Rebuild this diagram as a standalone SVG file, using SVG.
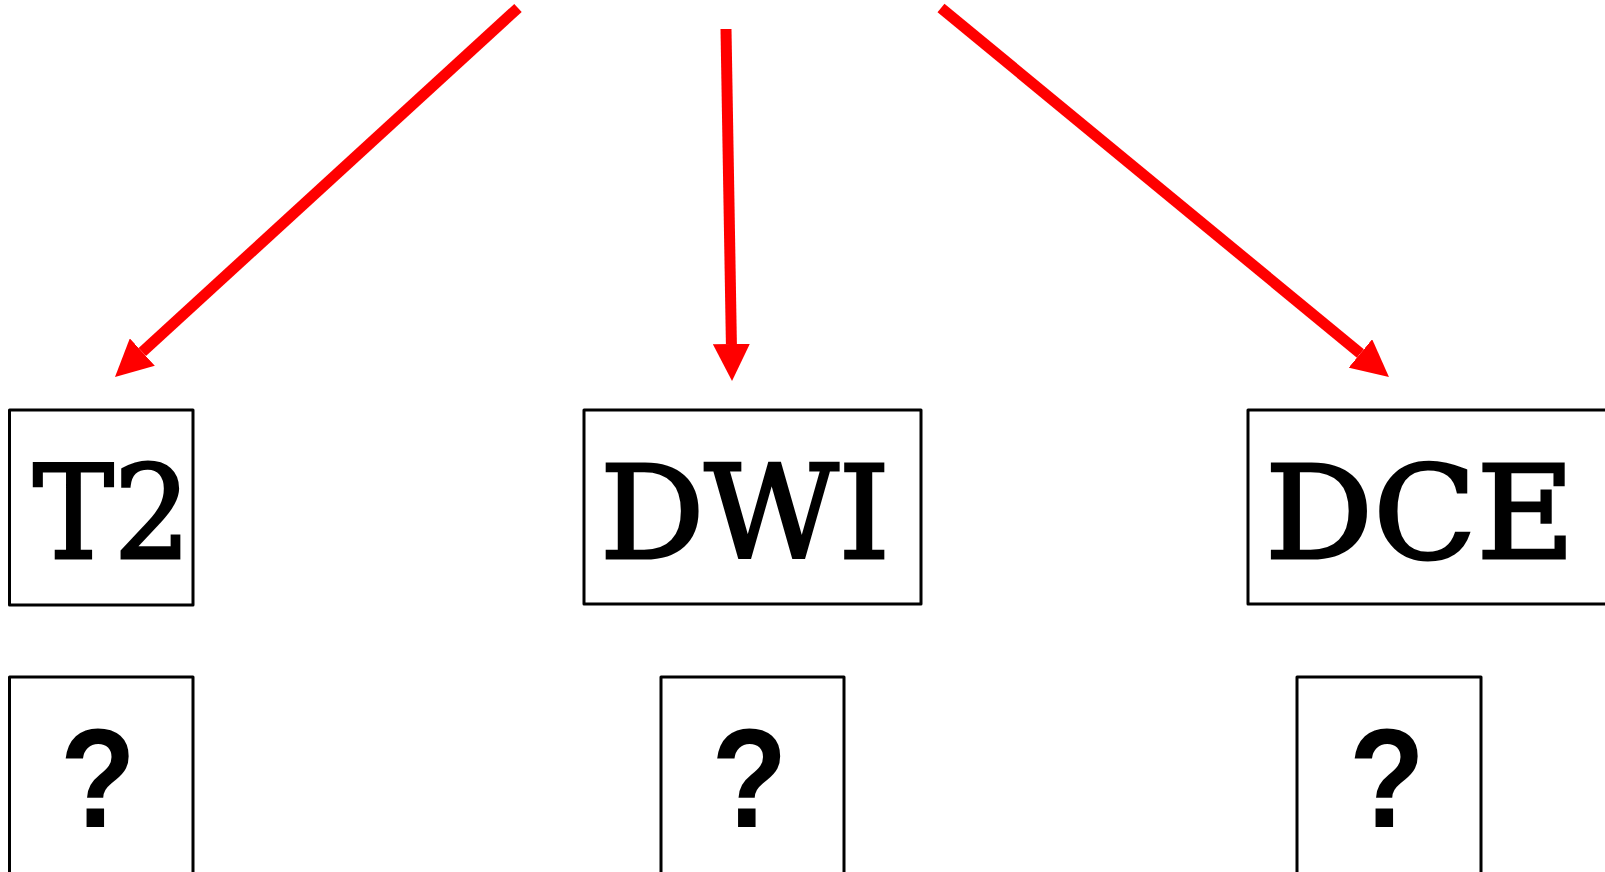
<svg xmlns="http://www.w3.org/2000/svg" width="1605" height="872" viewBox="0 0 1605 872">
  <style>
    .box { fill: #ffffff; stroke: #000000; stroke-width: 3; stroke-linejoin: round; }
    .label { font-family: "DejaVu Serif", "Liberation Serif", serif; font-size: 129px; fill: #000000; stroke: #000000; stroke-width: 3; text-anchor: middle; }
    .unknown { font-family: "Liberation Sans", Arial, sans-serif; font-weight: bold; font-size: 141px; fill: #000000; text-anchor: middle; }
    .link { fill: none; stroke: #ff0000; stroke-width: 11; marker-end: url(#head); }
  </style>
  <defs>
    <marker id="head" markerUnits="userSpaceOnUse" markerWidth="37" markerHeight="37" viewBox="0 0 37 37" refX="0" refY="18.5" orient="auto">
      <path d="M0,0 L37,18.5 L0,37 Z" fill="#ff0000"/>
    </marker>
  </defs>
  <rect width="1605" height="872" fill="#ffffff"/>

  <!-- connectors -->
  <g id="connectors">
    <path class="link" d="M518,8 L142.3,352"/>
    <path class="link" d="M726,29 L731.4,344"/>
    <path class="link" d="M941,8 L1360.4,353.5"/>
  </g>

  <!-- sequence row -->
  <g id="node-t2">
    <rect class="box" x="9.5" y="410" width="183.5" height="195"/>
    <text class="label" x="112" y="558" textLength="158" lengthAdjust="spacingAndGlyphs">T2</text>
  </g>
  <g id="node-dwi">
    <rect class="box" x="584" y="410" width="337" height="194"/>
    <text class="label" x="745" y="558" textLength="290" lengthAdjust="spacingAndGlyphs">DWI</text>
  </g>
  <g id="node-dce">
    <rect class="box" x="1248" y="410" width="370" height="194"/>
    <text class="label" x="1420" y="558" textLength="310" lengthAdjust="spacingAndGlyphs">DCE</text>
  </g>

  <!-- unknown row -->
  <g id="node-q1">
    <rect class="box" x="9.5" y="677" width="183.5" height="210"/>
    <text class="unknown" transform="translate(98 827) scale(0.88 1)">?</text>
  </g>
  <g id="node-q2">
    <rect class="box" x="661" y="677" width="183" height="210"/>
    <text class="unknown" transform="translate(749.5 827) scale(0.88 1)">?</text>
  </g>
  <g id="node-q3">
    <rect class="box" x="1297" y="677" width="184" height="210"/>
    <text class="unknown" transform="translate(1387 827) scale(0.88 1)">?</text>
  </g>
</svg>
